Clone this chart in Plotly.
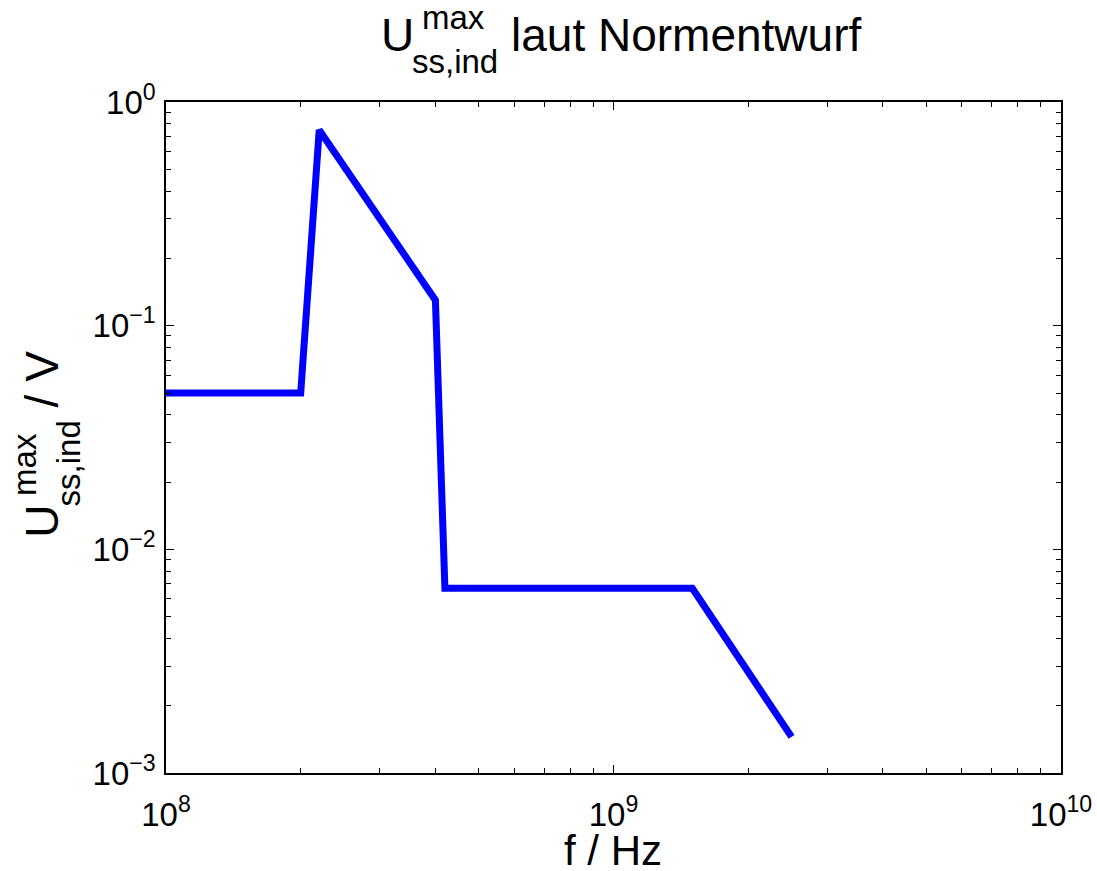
import plotly.graph_objects as go

# data
freq_hz = [1e8, 2e8, 2.2e8, 4e8, 4.2e8, 1.5e9, 2.5e9]
u_max_v = [0.05, 0.05, 0.75, 0.13, 0.0067, 0.0067, 0.00145]

x_tick_vals = [1e8, 1e9, 1e10]
x_tick_text = ["10<sup>8</sup>", "10<sup>9</sup>", "10<sup>10</sup>"]
y_tick_vals = [1e-3, 1e-2, 1e-1, 1e0]
y_tick_text = ["10<sup>\u22123</sup>", "10<sup>\u22122</sup>", "10<sup>\u22121</sup>", "10<sup>0</sup>"]

W, H = 1097, 871
L, R, T, B = 166, 1061, 102, 773
FONT = "Liberation Sans, Arial, Helvetica, sans-serif"

def px(x):
    return (x - L) / (R - L)

def py(y):
    return (B - y) / (B - T)

fig = go.Figure()
fig.add_trace(go.Scatter(x=freq_hz, y=u_max_v, mode="lines",
                         line=dict(color="#0000FF", width=7),
                         showlegend=False, hoverinfo="skip"))

axis_common = dict(
    showline=True, linecolor="black", linewidth=1.5, mirror="allticks",
    ticks="inside", ticklen=8, tickwidth=1, tickcolor="black",
    showgrid=False, zeroline=False, automargin=False,
    tickfont=dict(family=FONT, size=33, color="black"),
    tickmode="array",
    minor=dict(ticks="inside", ticklen=5, tickwidth=1, tickcolor="black",
               dtick="D1", showgrid=False),
)

fig.update_layout(
    width=W, height=H,
    margin=dict(l=L, r=W - R, t=T, b=H - B),
    paper_bgcolor="white", plot_bgcolor="white",
    font=dict(family=FONT, color="black"),
    xaxis=dict(type="log", range=[8, 10], tickvals=x_tick_vals, ticktext=x_tick_text,
               ticklabelstandoff=12, **axis_common),
    yaxis=dict(type="log", range=[-3, 0], tickvals=y_tick_vals, ticktext=y_tick_text,
               ticklabelstandoff=2, **axis_common),
)

# title pieces: U^max_ss,ind laut Normentwurf
S, s = 46, 33
ux, ub = 379, 51
u_adv = 0.722 * S
sub_w = 2.612 * s
title = [
    ("U", ux, ub, S),
    ("max", ux + u_adv + 8, ub - 22, s),
    ("ss,ind", ux + u_adv - 2, ub + 22, s),
    ("laut Normentwurf", ux + u_adv - 2 + sub_w + 0.278 * S, ub, S),
]
for text, x, base, size in title:
    fig.add_annotation(text=text, xref="paper", yref="paper", x=px(x), y=py(base - 0.35 * size),
                       xanchor="left", yanchor="middle", showarrow=False,
                       font=dict(family=FONT, size=size, color="black"))

# y-axis label pieces, rotated: U^max_ss,ind / V
Sy, sy = 46, 33
bx = 58
yl_u = 0.722 * Sy
yl_sub = 2.612 * sy
yl_total = yl_u + yl_sub + 0.278 * Sy + 1.223 * Sy
y0 = 445 + yl_total / 2
ylab = [
    ("U", bx, y0, Sy),
    ("max", bx - 22, y0 - yl_u - 8, sy),
    ("ss,ind", bx + 22, y0 - yl_u + 2, sy),
    ("/ V", bx, y0 - yl_u + 2 - yl_sub - 0.278 * Sy, Sy),
]
for text, b, ystart, size in ylab:
    fig.add_annotation(text=text, xref="paper", yref="paper",
                       x=px(b - 0.35 * size), y=py(ystart),
                       xanchor="center", yanchor="bottom", textangle=-90,
                       showarrow=False,
                       font=dict(family=FONT, size=size, color="black"))

# x-axis label
fig.add_annotation(text="f / Hz", xref="paper", yref="paper",
                   x=px(613), y=py(865 - 0.35 * 42), xanchor="center", yanchor="middle",
                   showarrow=False, font=dict(family=FONT, size=42, color="black"))

fig.write_html("out.html")
